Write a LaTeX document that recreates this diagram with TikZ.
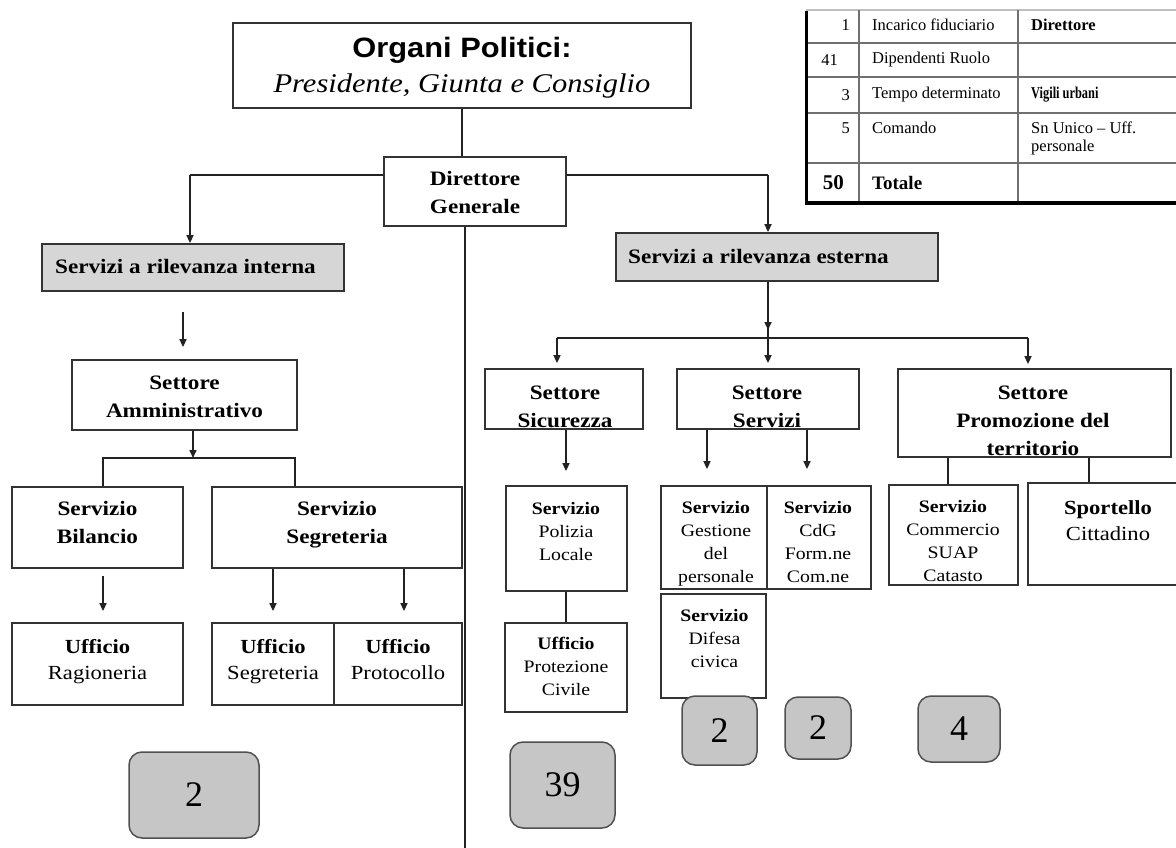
\documentclass[tikz,border=0pt]{standalone}
\usepackage{fontspec}
\setmainfont{Liberation Serif}
\newfontfamily\bxf[FakeStretch=1.13]{Liberation Serif}
\newfontfamily\arialf[FakeStretch=1.1]{Liberation Sans}
\usetikzlibrary{arrows.meta}
\definecolor{boxc}{HTML}{333333}
\definecolor{linec}{HTML}{222222}
\definecolor{grayf}{HTML}{D6D6D6}
\definecolor{numf}{HTML}{C6C6C6}
\definecolor{numd}{HTML}{505050}
\definecolor{tabc}{HTML}{707070}
\begin{document}
\begin{tikzpicture}[x=1pt,y=-1pt,
  rect/.style n args={4}{at={({(#1+#3)/2},{(#2+#4)/2})},minimum width={(#3-#1)*1pt},minimum height={(#4-#2)*1pt}},
  bx/.style={draw=boxc,line width=1.8pt,fill=white,inner sep=0pt},
  gbx/.style={bx,fill=grayf},
  num/.style={draw=numd,line width=1.5pt,fill=numf,rounded corners=13pt,inner sep=0pt,font=\fontsize{36}{36}\selectfont},
  st/.style={execute at begin node=\strut,execute at end node=\strut,yshift=-4.5pt},
  hd/.style={st,font=\bxf\bfseries\fontsize{20.5}{28}\selectfont,align=center,inner sep=0pt},
  md/.style={st,font=\bxf\fontsize{20}{26}\selectfont,align=center,inner sep=0pt},
  sm/.style={st,font=\bxf\fontsize{17.5}{23}\selectfont,align=center,inner sep=0pt},
  tb/.style={font=\fontsize{16.5}{20}\selectfont,inner sep=0pt},
  ln/.style={draw=linec,line width=1.6pt},
  arr/.style={ln,-{Triangle[length=8pt,width=7pt]}},
  tl/.style={draw=tabc,line width=1.6pt},
  tk/.style={draw=black,line width=3pt},
]
\useasboundingbox (0,0) rectangle (1176,848);
\fill[white] (0,0) rectangle (1176,848);

% ---------- table (top right) ----------
\draw[draw=black!25,line width=1.2pt] (806,10) -- (1180,10);
\foreach \yy in {43,77,113,163} {\draw[tl] (806,\yy) -- (1180,\yy);}
\draw[tl] (859,10) -- (859,203);
\draw[tl] (1018,10) -- (1018,203);
\draw[tk] (806,11) -- (806,203) -- (1180,203);
\node[tb,anchor=east] (r1a) at (850,25) {1};
\node[tb,anchor=west] (r1b) at (872,25) {Incarico fiduciario};
\node[tb,anchor=west] (r1c) at (1031,25) {\bfseries Direttore};
\node[tb,anchor=east] (r2a) at (838,60) {41};
\node[tb,anchor=west] (r2b) at (872,60) {Dipendenti Ruolo};
\node[tb,anchor=east] (r3a) at (850,95) {3};
\node[tb,anchor=west] (r3b) at (872,95) {Tempo determinato};
\node[tb,anchor=west] (r3c) at (1031,95) {\scalebox{0.75}[1]{\bfseries Vigili urbani}};
\node[tb,anchor=east] (r4a) at (850,128) {5};
\node[tb,anchor=west] (r4b) at (872,128) {Comando};
\node[tb,anchor=west] (r4c) at (1031,128) {Sn Unico – Uff.};
\node[tb,anchor=west] (r4d) at (1031,148) {personale};
\node[tb,anchor=east,font=\bfseries\fontsize{21}{21}\selectfont] (r5a) at (844,183) {50};
\node[tb,anchor=west,font=\bfseries\fontsize{19}{19}\selectfont] (r5b) at (872,183) {Totale};

% ---------- boxes ----------
\node[bx,rect={233}{23}{691}{108}] (T) {};
\node[inner sep=0pt,font=\arialf\bfseries\fontsize{28}{28}\selectfont] (tT1) at (462,50) {Organi Politici:};
\node[inner sep=0pt,font=\bxf\itshape\fontsize{27}{27}\selectfont] (tT2) at (462,86) {Presidente, Giunta e Consiglio};

\node[bx,rect={384}{157}{566}{226}] (DG) {};
\node[hd] (tDG) at (475,192) {Direttore\\Generale};

\node[gbx,rect={42}{244}{344}{291}] (SI) {};
\node[hd,anchor=west] (tSI) at (55,263) {Servizi a rilevanza interna};
\node[gbx,rect={616}{233}{938}{281}] (SE) {};
\node[hd,anchor=west] (tSE) at (628,253) {Servizi a rilevanza esterna};

\node[bx,rect={72}{360}{297}{430}] (SA) {};
\node[hd] (tSA) at (184.5,396) {Settore\\Amministrativo};

\node[bx,rect={12}{487}{183}{568}] (SB) {};
\node[hd] (tSB) at (97.5,522) {Servizio\\Bilancio};
\node[bx,rect={212}{487}{462}{568}] (SG) {};
\node[hd] (tSG) at (337,522) {Servizio\\Segreteria};

\node[bx,rect={12}{623}{183}{705}] (UR) {};
\node[md] (tUR) at (97.5,659) {\textbf{Ufficio}\\Ragioneria};
\node[bx,rect={212}{623}{334}{705}] (US) {};
\node[md] (tUS) at (273,659) {\textbf{Ufficio}\\Segreteria};
\node[bx,rect={334}{623}{462}{705}] (UP) {};
\node[md] (tUP) at (398,659) {\textbf{Ufficio}\\Protocollo};

\node[num,rect={129}{752}{259}{838}] (N1) {2};

\node[bx,rect={485}{369}{643}{429}] (SS) {};
\node[hd] (tSS) at (565,406) {Settore\\Sicurezza};
\node[bx,rect={677}{369}{859}{429}] (SV) {};
\node[hd] (tSV) at (767,406) {Settore\\Servizi};
\node[bx,rect={898}{369}{1171}{457}] (PT) {};
\node[hd] (tPT) at (1033,420) {Settore\\Promozione del\\territorio};

\node[bx,rect={506}{486}{627}{591}] (PL) {};
\node[sm] (tPL) at (566,530) {\textbf{Servizio}\\Polizia\\Locale};
\node[bx,rect={505}{623}{627}{712}] (PC) {};
\node[sm] (tPC) at (566,665) {\textbf{Ufficio}\\Protezione\\Civile};

\node[bx,rect={661}{486}{767}{589}] (GP) {};
\node[sm] (tGP) at (716,541) {\textbf{Servizio}\\Gestione\\del\\personale};
\node[bx,rect={767}{486}{871}{589}] (CG) {};
\node[sm] (tCG) at (818,541) {\textbf{Servizio}\\CdG\\Form.ne\\Com.ne};
\node[bx,rect={661}{594}{766}{698}] (DC) {};
\node[sm] (tDC) at (714.5,637) {\textbf{Servizio}\\Difesa\\civica};

\node[bx,rect={889}{485}{1018}{585}] (SC) {};
\node[sm] (tSC) at (953,540) {\textbf{Servizio}\\Commercio\\SUAP\\Catasto};
\node[bx,rect={1028}{483}{1190}{585}] (SP) {};
\node[md] (tSP) at (1108,519.5) {\textbf{Sportello}\\Cittadino};

\node[num,rect={510}{742}{615}{828}] (N39) {39};
\node[num,rect={682}{696}{757}{765}] (N2a) {2};
\node[num,rect={785}{697}{851}{759}] (N2b) {2};
\node[num,rect={918}{696}{1000}{762}] (N4) {4};

% ---------- connectors ----------
\coordinate (dvb) at (465,848);
\draw[ln] (T.south) -- (T.south |- DG.north);
\draw[ln] (DG.south -| dvb) -- (dvb);

\coordinate (lL) at (190,175);
\coordinate (lR) at (768,175);
\draw[ln] (DG.west |- lL) -- (lL);
\draw[arr] (lL) -- (lL |- SI.north);
\draw[ln] (DG.east |- lR) -- (lR);
\draw[arr] (lR) -- (lR |- SE.north);

\coordinate (fa) at (183,312);
\draw[arr,shorten >=12pt] (fa) -- (fa |- SA.north);

\coordinate (ja) at (193,458);
\coordinate (ba) at (103,458);
\coordinate (bb) at (295,458);
\draw[arr] (SA.south -| ja) -- (ja);
\draw[ln] (SB.north -| ba) -- (ba) -- (bb) -- (SG.north -| bb);

\coordinate (xs1) at (273,0);
\coordinate (xs2) at (404,0);
\draw[arr,shorten <=7pt,shorten >=11pt] (SB.south -| ba) -- (UR.north -| ba);
\draw[arr,shorten >=11pt] (SG.south -| xs1) -- (US.north -| xs1);
\draw[arr,shorten >=11pt] (SG.south -| xs2) -- (UP.north -| xs2);

\coordinate (je) at (768,338);
\coordinate (jl) at (557,338);
\coordinate (jr) at (1028,338);
\draw[arr,shorten >=8pt] (SE.south -| je) -- (je);
\draw[ln] (SE.south -| je) -- (je);
\draw[ln] (jl) -- (jr);
\draw[arr,shorten >=5pt] (jl) -- (jl |- SS.north);
\draw[arr,shorten >=5pt] (je) -- (je |- SV.north);
\draw[arr,shorten >=4pt] (jr) -- (jr |- PT.north);

\coordinate (xp) at (566,0);
\coordinate (xg) at (707,0);
\coordinate (xc) at (807,0);
\coordinate (xm) at (948,0);
\coordinate (xt) at (1089,0);
\draw[arr,shorten >=14pt] (SS.south -| xp) -- (PL.north -| xp);
\draw[ln] (PL.south -| xp) -- (PC.north -| xp);
\draw[arr,shorten >=16pt] (SV.south -| xg) -- (GP.north -| xg);
\draw[arr,shorten >=16pt] (SV.south -| xc) -- (CG.north -| xc);
\draw[ln] (PT.south -| xm) -- (SC.north -| xm);
\draw[ln] (PT.south -| xt) -- (SP.north -| xt);
\end{tikzpicture}
\end{document}
